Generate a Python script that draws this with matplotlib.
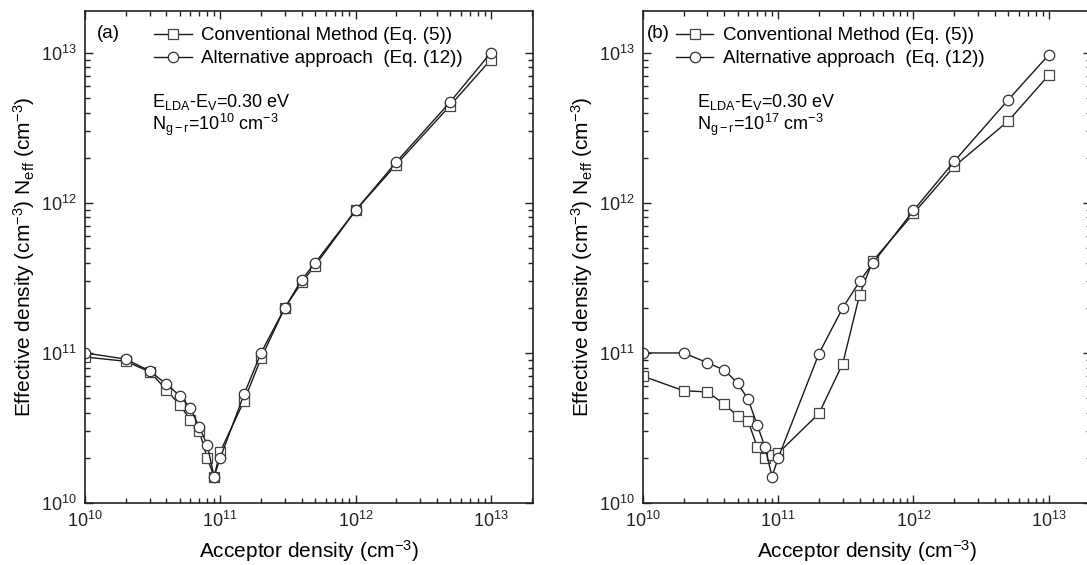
import numpy as np
import matplotlib
matplotlib.use("Agg")
import matplotlib.pyplot as plt
from matplotlib.ticker import LogLocator, NullFormatter

plt.rcParams['font.family'] = ['Liberation Sans', 'DejaVu Sans']
plt.rcParams['mathtext.fontset'] = 'custom'
plt.rcParams['mathtext.rm'] = 'Liberation Sans'
plt.rcParams['mathtext.it'] = 'Liberation Sans:italic'
plt.rcParams['mathtext.default'] = 'regular'

# acceptor density (cm^-3)
na_a = [1e10, 2e10, 3e10, 4e10, 5e10, 6e10, 7e10, 8e10, 9e10, 1e11,
        1.5e11, 2e11, 3e11, 4e11, 5e11, 1e12, 2e12, 5e12, 1e13]
conv_a = [9.4e10, 8.8e10, 7.5e10, 5.7e10, 4.5e10, 3.6e10, 3.0e10, 2.0e10, 1.5e10, 2.2e10,
          4.8e10, 9.2e10, 2.0e11, 2.95e11, 3.8e11, 8.9e11, 1.8e12, 4.45e12, 9.0e12]
alt_a = [1.0e11, 9.1e10, 7.6e10, 6.2e10, 5.2e10, 4.3e10, 3.2e10, 2.45e10, 1.5e10, 2.0e10,
         5.3e10, 1.0e11, 2.0e11, 3.07e11, 3.96e11, 8.9e11, 1.87e12, 4.7e12, 1.0e13]

na_b_conv = [1e10, 2e10, 3e10, 4e10, 5e10, 6e10, 7e10, 8e10, 9e10, 1e11,
             2e11, 3e11, 4e11, 5e11, 1e12, 2e12, 5e12, 1e13]
conv_b = [7.0e10, 5.6e10, 5.5e10, 4.55e10, 3.8e10, 3.5e10, 2.35e10, 2.0e10, 2.1e10, 2.15e10,
          3.95e10, 8.5e10, 2.45e11, 4.1e11, 8.5e11, 1.75e12, 3.5e12, 7.1e12]
na_b_alt = [1e10, 2e10, 3e10, 4e10, 5e10, 6e10, 7e10, 8e10, 9e10, 1e11,
            2e11, 3e11, 4e11, 5e11, 1e12, 2e12, 5e12, 1e13]
alt_b = [1.0e11, 1.0e11, 8.6e10, 7.7e10, 6.3e10, 4.9e10, 3.3e10, 2.35e10, 1.5e10, 2.0e10,
         9.9e10, 2.0e11, 3.0e11, 3.96e11, 8.9e11, 1.89e12, 4.85e12, 9.7e12]

panels = [
    dict(pos=[0.0782, 0.1097, 0.4121, 0.8708], tag="(a)", ng="10",
         x1=na_a, y1=conv_a, x2=na_a, y2=alt_a,
         tag_x=0.027, leg_x=0.138, txt_x=0.15),
    dict(pos=[0.5915, 0.1097, 0.4121, 0.8708], tag="(b)", ng="17",
         x1=na_b_conv, y1=conv_b, x2=na_b_alt, y2=alt_b,
         tag_x=0.009, leg_x=0.057, txt_x=0.12),
]

fig = plt.figure(figsize=(10.87, 5.65), dpi=100)

for p in panels:
    ax = fig.add_axes(p['pos'])
    ax.set_xscale('log')
    ax.set_yscale('log')
    ax.plot(p['x1'], p['y1'], '-', color='#1a1a1a', lw=1.0, marker='s', ms=6.5,
            mfc='white', mec='#444444', mew=0.9, label='Conventional Method (Eq. (5))')
    ax.plot(p['x2'], p['y2'], '-', color='#1a1a1a', lw=1.0, marker='o', ms=7.5,
            mfc='white', mec='#333333', mew=0.9, label='Alternative approach  (Eq. (12))')
    ax.set_xlim(1e10, 2.05e13)
    ax.set_ylim(1e10, 1.9e13)

    for axis in (ax.xaxis, ax.yaxis):
        axis.set_major_locator(LogLocator(base=10, numticks=10))
        axis.set_minor_locator(LogLocator(base=10, subs=np.arange(2, 10), numticks=10))
        axis.set_minor_formatter(NullFormatter())
    ax.tick_params(which='both', direction='in', top=True, right=True, labelsize=13,
                   width=1.0, colors='#222222')
    ax.tick_params(which='major', length=6, pad=6)
    ax.tick_params(which='minor', length=3.5)
    for s in ax.spines.values():
        s.set_linewidth(1.2)
        s.set_color('#222222')

    ax.set_xlabel('Acceptor density (cm$^{-3}$)', fontsize=15, labelpad=5)
    ax.set_ylabel('Effective density (cm$^{-3}$) N$_{eff}$ (cm$^{-3}$)', fontsize=15,
                  labelpad=3)

    ax.text(p['tag_x'], 0.955, p['tag'], transform=ax.transAxes, fontsize=13.5,
            va='center', ha='left')
    ax.legend(loc='upper left', bbox_to_anchor=(p['leg_x'], 0.982), frameon=False,
              fontsize=13.5, handlelength=2.0, handletextpad=0.5, labelspacing=0.3,
              numpoints=1, borderaxespad=0.0)
    ax.text(p['txt_x'], 0.815, 'E$_{LDA}$-E$_V$=0.30 eV', transform=ax.transAxes,
            fontsize=13, va='center')
    ax.text(p['txt_x'], 0.768, 'N$_{g-r}$=10$^{%s}$ cm$^{-3}$' % p['ng'],
            transform=ax.transAxes, fontsize=13, va='center')

fig.savefig('out.png', dpi=100)
